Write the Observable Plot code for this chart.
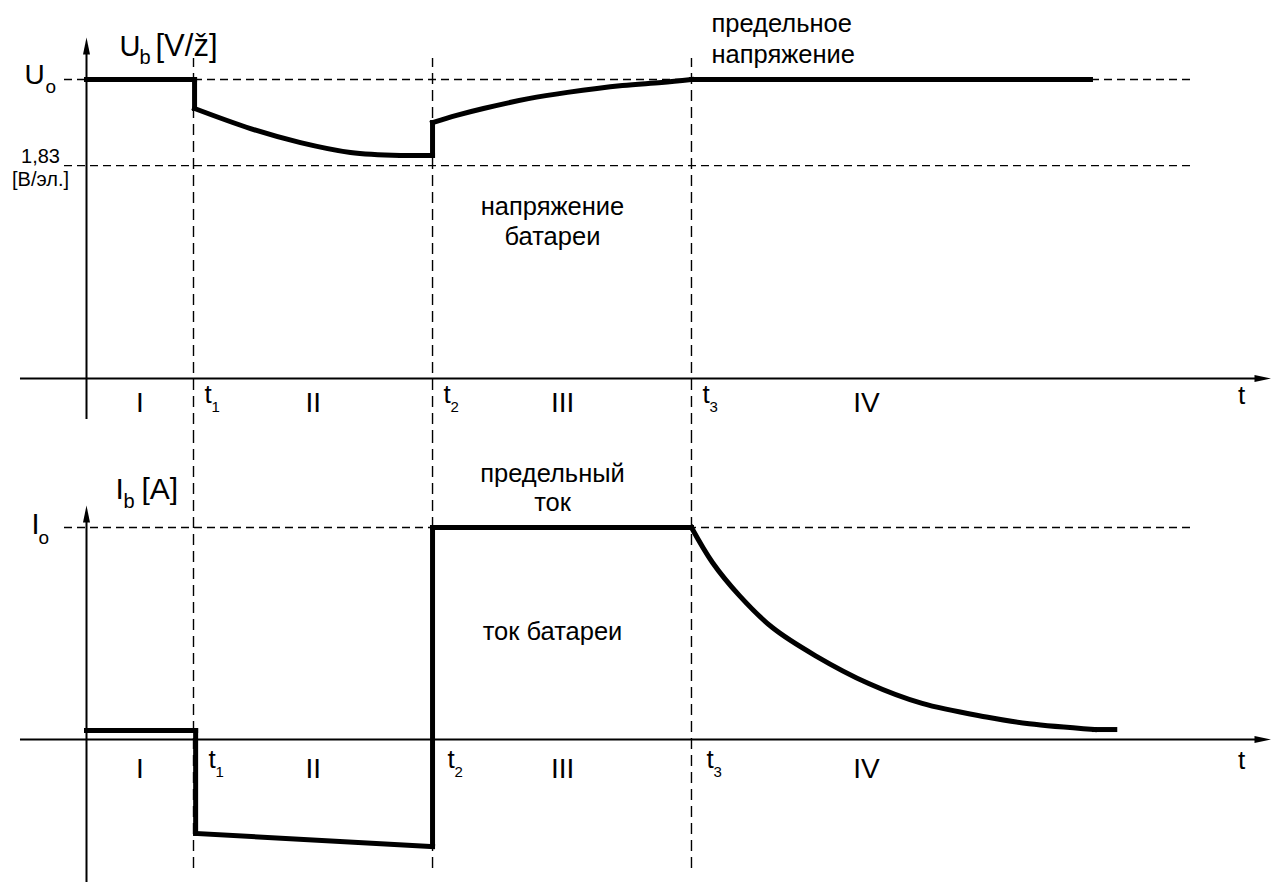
<!DOCTYPE html>
<html><head><meta charset="utf-8">
<script src="https://cdn.jsdelivr.net/npm/d3@7"></script>
<script src="https://cdn.jsdelivr.net/npm/@observablehq/plot@0.6"></script>
<style>html,body{margin:0;padding:0;background:#fff;} #chart svg{display:block;}</style>
</head><body><div id="chart"></div>
<script>
// ---------- data (time in units of t1, U relative to Uo, I relative to Io) ----------
const eventTimes = [1.0, 3.234, 5.654];
const eventSubs = ["1", "2", "3"];
const phaseNames = ["I", "II", "III", "IV"];
const phaseTimes = [0.5, 2.12, 4.45, 7.29];

const uTimes  = [0, 1.01, 1.01, 1.533, 2.0, 2.467, 2.935, 3.234, 3.234, 3.458, 3.710, 4.131, 4.495, 5.009, 5.374, 5.654, 9.383];
const uValues = [1.0, 1.0, 0.903, 0.836, 0.789, 0.756, 0.746, 0.746, 0.856, 0.880, 0.903, 0.936, 0.957, 0.980, 0.990, 1.0, 1.0];
const uLevels = [1.0, 0.712];           // Uo, 1,83 V/cell

const iTimes  = [0, 1.02, 1.02, 3.234, 3.234, 5.654, 5.85, 6.10, 6.41, 6.81, 7.31, 7.81, 8.41, 8.81, 9.42, 9.61];
const iValues = [0.042, 0.042, -0.443, -0.505, 1.0, 1.0, 0.835, 0.68, 0.528, 0.396, 0.264, 0.170, 0.106, 0.074, 0.047, 0.047];
const iLevels = [1.0];                  // Io

// ---------- layout ----------
const W = 1271, H = 441;
const xDomain = [-86 / 107, (W - 86) / 107];
const xMax = xDomain[1];
const font = "'Liberation Sans', Arial, Helvetica, sans-serif";

const arrowHead = {
  draw(ctx) { ctx.moveTo(0, 0); ctx.lineTo(-17, -3.5); ctx.lineTo(-17, 3.5); ctx.closePath(); }
};

function label(text, x, y, o) {
  return Plot.text([{text, x, y}], {x: "x", y: "y", text: "text", lineAnchor: "bottom", textAnchor: "start", fill: "black", ...o});
}
// split a series into pieces: vertical jumps are their own 2-point piece,
// and a piece also breaks where a flat stretch meets a curved one
function segments(ts, vs) {
  const out = [];
  let seg = 0;
  const flat = k => vs[k] === vs[k - 1];
  for (let k = 0; k < ts.length; k++) {
    if (k > 0 && ts[k] === ts[k - 1]) {
      seg++;
      out.push({t: ts[k - 1], v: vs[k - 1], seg});
      out.push({t: ts[k], v: vs[k], seg});
      seg++;
    } else if (k > 1 && ts[k - 1] !== ts[k - 2] && flat(k) !== flat(k - 1)) {
      seg++;
      out.push({t: ts[k - 1], v: vs[k - 1], seg});
    }
    out.push({t: ts[k], v: vs[k], seg});
  }
  return out;
}

function panel({yDomain, series, levels, vBottom, axisTop, arrowTop, evY1, evY2, evDx, evDy, phDy, annotations}) {
  return Plot.plot({
    width: W, height: H,
    marginTop: 0, marginRight: 0, marginBottom: 0, marginLeft: 0,
    x: {domain: xDomain, range: [0, W], axis: null},
    y: {domain: yDomain, range: [H, 0], axis: null},
    style: {background: "white", fontFamily: font, color: "black"},
    marks: [
      Plot.ruleX(eventTimes, {x: d => d, y1: () => evY1, y2: () => evY2, stroke: "black", strokeWidth: 1.4, strokeDasharray: "11,6"}),
      Plot.ruleY(levels, {y: d => d, x1: () => -0.2056, x2: () => 10.318, stroke: "black", strokeWidth: 1.3, strokeDasharray: "8,5"}),
      Plot.ruleY([0], {x1: () => -0.617, x2: () => 10.93, stroke: "black", strokeWidth: 2}),
      Plot.ruleX([0], {y1: () => vBottom, y2: () => axisTop, stroke: "black", strokeWidth: 2}),
      Plot.dot([{t: xMax, v: 0}], {x: "t", y: "v", symbol: arrowHead, fill: "black", stroke: "none"}),
      Plot.dot([{t: 0, v: arrowTop}], {x: "t", y: "v", symbol: arrowHead, rotate: -90, fill: "black", stroke: "none"}),
      Plot.line(series, {x: "t", y: "v", z: "seg", curve: "catmull-rom", stroke: "black", strokeWidth: 5, strokeLinejoin: "miter", strokeLinecap: "square"}),
      Plot.text(phaseNames, {x: (d, i) => phaseTimes[i], y: () => 0, text: d => d, dy: phDy, fontSize: 28, lineAnchor: "bottom", fill: "black"}),
      Plot.text(eventTimes, {x: d => d, y: () => 0, text: () => "t", dx: evDx, dy: evDy, fontSize: 26, textAnchor: "start", lineAnchor: "bottom", fill: "black"}),
      Plot.text(eventTimes, {x: d => d, y: () => 0, text: (d, i) => eventSubs[i], dx: evDx + 7, dy: evDy + 9, fontSize: 15, textAnchor: "start", lineAnchor: "bottom", fill: "black"}),
      label("t", xMax, 0, {dx: -30, dy: evDy + 1, fontSize: 26, textAnchor: "middle"}),
      ...annotations
    ]
  });
}

const topPanel = panel({
  yDomain: [(378 - H) / 299, 378 / 299],
  series: segments(uTimes, uValues),
  levels: uLevels,
  vBottom: -0.137,
  axisTop: 1.085,
  arrowTop: 1.1405,
  evY1: (378 - H) / 299, evY2: 1.070,
  evDx: 11, evDy: 24, phDy: 33,
  annotations: [
    label("U", 0, 1.0, {dx: 33, dy: -24, fontSize: 29}),
    label("b", 0, 1.0, {dx: 53, dy: -16, fontSize: 20}),
    label("[V/ž]", 0, 1.0, {dx: 69, dy: -24, fontSize: 31}),
    label("U", 0, 1.0, {dx: -62, dy: 4, fontSize: 28}),
    label("o", 0, 1.0, {dx: -41, dy: 13, fontSize: 19}),
    label("1,83", 0, 0.712, {dx: -46, dy: -3, fontSize: 20, textAnchor: "middle"}),
    label("[В/эл.]", 0, 0.712, {dx: -46, dy: 20, fontSize: 20, textAnchor: "middle"}),
    label("предельное\nнапряжение", eventTimes[2], 1.0, {dx: 20, dy: -17, fontSize: 25.5, lineHeight: 1.18}),
    label("напряжение\nбатареи", 4.355, 0.445, {fontSize: 25.5, lineHeight: 1.18, textAnchor: "middle"})
  ]
});

const bottomPanel = panel({
  yDomain: [(298 - H) / 212, 298 / 212],
  series: segments(iTimes, iValues),
  levels: iLevels,
  vBottom: (298 - H) / 212,
  axisTop: 1.03,
  arrowTop: 1.104,
  evY1: -0.6085, evY2: 298 / 212,
  evDx: 15, evDy: 28, phDy: 38,
  annotations: [
    label("I", 0, 1.0, {dx: 29, dy: -29, fontSize: 30}),
    label("b", 0, 1.0, {dx: 37, dy: -20, fontSize: 20}),
    label("[A]", 0, 1.0, {dx: 55, dy: -29, fontSize: 30}),
    label("I", 0, 1.0, {dx: -55, dy: 6, fontSize: 29}),
    label("o", 0, 1.0, {dx: -48, dy: 16, fontSize: 19}),
    label("предельный\nток", 4.355, 1.080, {fontSize: 25.5, lineHeight: 1.1, textAnchor: "middle"}),
    label("ток батареи", 4.355, 0.467, {fontSize: 25.5, textAnchor: "middle"})
  ]
});

document.getElementById("chart").append(topPanel, bottomPanel);
</script>
</body></html>
